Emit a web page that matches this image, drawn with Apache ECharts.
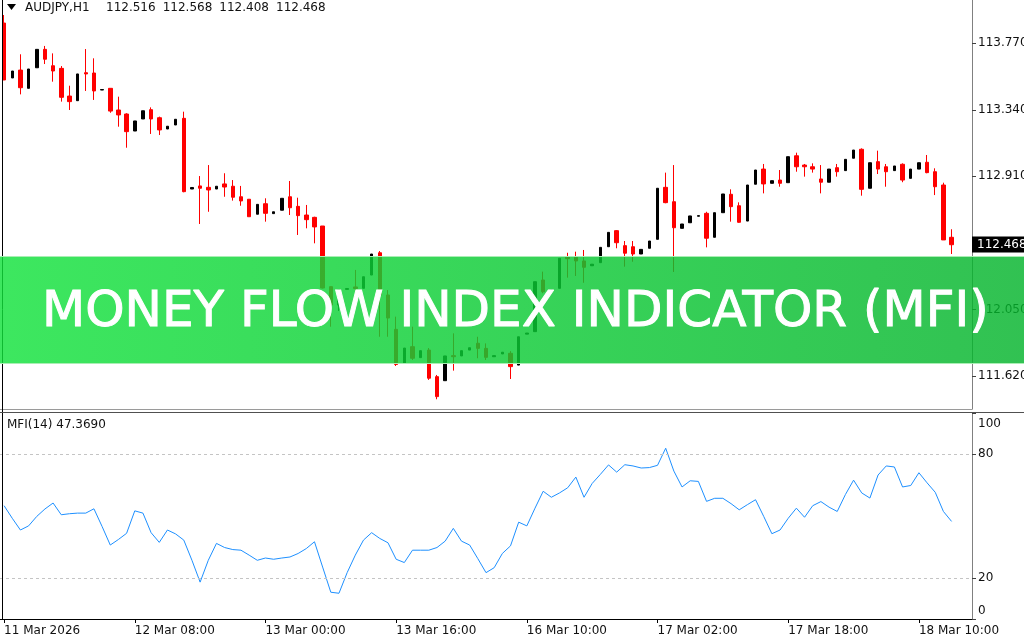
<!DOCTYPE html>
<html><head><meta charset="utf-8">
<style>html,body{margin:0;padding:0;background:#fff}#c{width:1024px;height:640px}</style>
<script src="https://cdn.jsdelivr.net/npm/echarts@6/dist/echarts.min.js"></script>
</head><body><div id="c"></div>
<script>
const symbolName = 'AUDJPY,H1';
const titleOHLC = ['112.516', '112.568', '112.408', '112.468'];
const mfiTitle = 'MFI(14) 47.3690';
const bannerText = 'MONEY FLOW INDEX INDICATOR (MFI)';

const open = [
113.901,113.546,113.597,113.479,113.612,113.731,113.625,113.608,113.429,113.399,
113.580,113.578,113.468,113.479,113.339,113.313,113.203,113.281,113.341,113.289,
113.216,113.242,113.285,112.828,112.848,112.839,112.828,112.861,112.846,112.778,
112.762,112.665,112.733,112.669,112.691,112.778,112.716,112.660,112.645,112.589,
112.197,112.078,112.179,112.195,112.186,112.272,112.416,112.143,111.921,111.703,
111.809,111.738,111.787,111.615,111.589,111.751,111.749,111.787,111.831,111.798,
111.744,111.762,111.766,111.690,111.890,111.906,112.240,112.165,112.186,112.387,
112.387,112.363,112.332,112.352,112.455,112.559,112.462,112.455,112.408,112.445,
112.503,112.839,112.746,112.574,112.610,112.652,112.671,112.516,112.675,112.794,
112.720,112.621,112.859,112.957,112.865,112.886,112.869,113.043,112.983,112.972,
112.893,112.872,112.966,112.947,113.027,113.085,112.833,113.005,112.972,112.947,
112.988,112.897,112.957,113.001,112.940,112.854,112.516];
const high = [
113.953,113.591,113.699,113.604,113.731,113.753,113.705,113.623,113.496,113.572,
113.733,113.673,113.471,113.479,113.425,113.318,113.268,113.334,113.356,113.296,
113.234,113.279,113.328,112.838,112.912,112.983,112.846,112.930,112.886,112.848,
112.762,112.729,112.768,112.681,112.768,112.880,112.772,112.725,112.649,112.589,
112.197,112.176,112.185,112.305,112.261,112.408,112.427,112.175,112.003,111.800,
111.938,111.783,111.800,111.626,111.749,111.895,111.783,111.802,111.873,111.830,
111.751,111.773,111.780,111.873,111.897,112.229,112.294,112.175,112.380,112.416,
112.423,112.434,112.342,112.451,112.548,112.563,112.492,112.492,112.438,112.492,
112.833,112.934,112.983,112.602,112.654,112.656,112.681,112.675,112.796,112.826,
112.742,112.854,112.951,112.990,112.882,112.951,113.037,113.063,112.990,112.994,
112.983,112.957,112.990,113.020,113.080,113.091,112.998,113.076,112.990,112.977,
112.994,112.957,112.998,113.048,112.962,112.869,112.568];
const low = [
113.533,113.546,113.440,113.479,113.612,113.636,113.522,113.393,113.339,113.399,
113.462,113.404,113.468,113.321,113.231,113.095,113.203,113.281,113.184,113.177,
113.216,113.242,112.807,112.828,112.602,112.681,112.828,112.778,112.753,112.720,
112.649,112.665,112.617,112.669,112.691,112.660,112.531,112.574,112.477,112.185,
111.938,112.040,112.179,112.067,112.186,112.272,111.873,111.873,111.684,111.703,
111.723,111.738,111.594,111.469,111.589,111.654,111.749,111.787,111.734,111.723,
111.744,111.762,111.600,111.690,111.890,111.906,112.154,112.165,112.186,112.255,
112.266,112.222,112.332,112.352,112.455,112.445,112.326,112.358,112.408,112.445,
112.503,112.736,112.292,112.574,112.610,112.652,112.451,112.516,112.675,112.617,
112.610,112.621,112.859,112.800,112.865,112.843,112.869,112.940,112.908,112.934,
112.800,112.872,112.908,112.947,113.027,112.785,112.833,112.925,112.843,112.947,
112.872,112.897,112.957,112.930,112.789,112.499,112.408];
const close = [
113.533,113.591,113.483,113.604,113.731,113.667,113.591,113.421,113.393,113.572,
113.572,113.462,113.471,113.332,113.307,113.199,113.268,113.334,113.281,113.210,
113.234,113.279,112.811,112.838,112.833,112.822,112.846,112.841,112.775,112.751,
112.649,112.729,112.671,112.681,112.768,112.707,112.656,112.630,112.583,112.188,
112.078,112.176,112.185,112.185,112.261,112.408,112.143,111.994,111.694,111.800,
111.734,111.783,111.605,111.486,111.749,111.744,111.783,111.802,111.798,111.740,
111.751,111.773,111.680,111.873,111.897,112.229,112.164,112.175,112.380,112.378,
112.363,112.322,112.342,112.451,112.548,112.481,112.413,112.408,112.438,112.492,
112.833,112.740,112.578,112.602,112.654,112.656,112.510,112.675,112.796,112.714,
112.613,112.854,112.951,112.861,112.882,112.865,113.037,112.972,112.972,112.957,
112.872,112.957,112.940,113.020,113.080,112.826,112.998,112.957,112.940,112.977,
112.886,112.957,112.998,112.934,112.843,112.499,112.468];
const mfi = [
55.0,48.9,43.2,45.2,49.8,53.4,56.3,50.6,51.1,51.4,
51.4,53.5,44.9,35.9,38.6,41.6,52.5,51.4,41.9,37.2,
43.2,41.3,38.3,28.5,17.9,28.5,36.7,34.7,33.7,33.4,
31.0,28.5,29.6,29.0,29.6,30.1,31.8,34.2,37.5,25.2,
13.0,12.5,22.5,31.0,38.3,41.9,39.1,37.0,29.0,27.4,
33.4,33.4,33.4,34.7,37.8,44.0,37.8,35.9,29.3,22.5,
24.9,31.8,35.5,47.0,45.2,53.8,62.0,59.1,61.2,63.7,
68.9,59.1,65.8,70.2,74.8,71.3,74.9,74.3,73.3,73.5,
74.6,82.9,71.8,64.1,67.1,66.8,57.1,58.6,58.6,56.0,
53.0,55.5,57.9,49.8,41.4,43.2,48.9,53.8,49.4,55.0,
57.0,54.3,52.2,60.4,67.4,61.2,58.7,69.9,74.3,73.8,
64.1,64.8,71.0,66.1,61.5,52.2,47.369];

const priceTicks = [111.62, 112.05, 112.48, 112.91, 113.34, 113.77];
const mfiTicks = [0, 20, 80, 100];
const mfiLevels = [20, 80];
const timeTicks = [
  [0, '11 Mar 2026'], [16, '12 Mar 08:00'], [32, '13 Mar 00:00'], [48, '13 Mar 16:00'],
  [64, '16 Mar 10:00'], [80, '17 Mar 02:00'], [96, '17 Mar 18:00'], [112, '18 Mar 10:00']
];
const emptySlotsRight = 2;

const FONT = 'DejaVu Sans';
const TXT = '#111111';

const n = open.length;
const categories = [];
for (let i = 0; i < n + emptySlotsRight; i++) categories.push(String(i));
const tickMap = {};
timeTicks.forEach(t => { tickMap[t[0]] = t[1]; });
const isTick = (idx) => Object.prototype.hasOwnProperty.call(tickMap, idx);

const EMPTY = ['-', '-', '-', '-'];
const bullData = [], bearData = [];
for (let i = 0; i < n; i++) {
  const item = [open[i], close[i], low[i], high[i]];
  if (close[i] > open[i]) { bullData.push(item); bearData.push(EMPTY); }
  else { bearData.push(item); bullData.push(EMPTY); }
}
const lastClose = close[n - 1];

const titleX = [106, 162.7, 219.3, 276];
const titleTexts = titleOHLC.map((t, k) => ({type: 'text', x: titleX[k], y: 8, z: 50,
  style: {text: t, fill: TXT, font: '12px "DejaVu Sans"', verticalAlign: 'middle'}}));

const chart = echarts.init(document.getElementById('c'), null, {renderer: 'canvas'});
const option = {
  animation: false,
  backgroundColor: '#ffffff',
  textStyle: {fontFamily: FONT},
  grid: [
    {left: 0, right: 52, top: 0, height: 409, outerBoundsMode: 'none', containLabel: false},
    {left: 0, right: 52, top: 413, height: 206, outerBoundsMode: 'none', containLabel: false}
  ],
  xAxis: [
    {type: 'category', gridIndex: 0, data: categories, boundaryGap: true,
     axisLine: {show: true, lineStyle: {color: '#9a9a9a', width: 1}},
     axisTick: {show: false}, axisLabel: {show: false}, splitLine: {show: false}},
    {type: 'category', gridIndex: 1, data: categories, boundaryGap: true,
     axisLine: {show: true, lineStyle: {color: '#000000', width: 1}},
     axisTick: {show: true, alignWithLabel: true, length: 4, interval: (i) => isTick(i), lineStyle: {color: '#000'}},
     axisLabel: {show: true, interval: (i) => isTick(i), formatter: (v, i) => tickMap[i] || '',
       align: 'left', margin: 6, color: TXT, fontFamily: FONT, fontSize: 12},
     splitLine: {show: false}}
  ],
  yAxis: [
    {type: 'value', gridIndex: 0, position: 'right', min: 111.406, max: 114.050, scale: true,
     axisLine: {show: true, lineStyle: {color: '#808080'}},
     axisTick: {show: true, customValues: priceTicks, length: 4, lineStyle: {color: '#404040'}},
     axisLabel: {show: true, customValues: priceTicks, formatter: (v) => v.toFixed(3), margin: 6,
       color: TXT, fontFamily: FONT, fontSize: 12},
     splitLine: {show: false}},
    {type: 'value', gridIndex: 1, position: 'right', min: 0, max: 100,
     axisLine: {show: true, lineStyle: {color: '#808080'}},
     axisTick: {show: true, customValues: mfiTicks, length: 4, lineStyle: {color: '#404040'}},
     axisLabel: {show: true, customValues: mfiTicks, margin: 6, color: TXT, fontFamily: FONT, fontSize: 12,
       formatter: (v) => v === 100 ? '{t|100}' : (v === 0 ? '{b|0}' : String(v)),
       rich: {t: {padding: [22, 0, 0, 0], fontFamily: FONT, fontSize: 12, color: TXT},
              b: {padding: [0, 0, 17, 0], fontFamily: FONT, fontSize: 12, color: TXT}}},
     splitLine: {show: false}}
  ],
  series: [
    {type: 'candlestick', name: 'bull', xAxisIndex: 0, yAxisIndex: 0, data: bullData, barWidth: 3,
     itemStyle: {color: '#000000', color0: '#000000', borderColor: '#000000', borderColor0: '#000000', borderWidth: 1}},
    {type: 'candlestick', name: 'bear', xAxisIndex: 0, yAxisIndex: 0, data: bearData, barWidth: 4,
     itemStyle: {color: '#ff0000', color0: '#ff0000', borderColor: '#ff0000', borderColor0: '#ff0000', borderWidth: 1},
     markLine: {silent: true, symbol: 'none', animation: false,
       data: [{yAxis: lastClose}],
       lineStyle: {color: 'rgba(0,0,0,0)', width: 0},
       label: {show: true, position: 'end', distance: 0, formatter: lastClose.toFixed(3),
         backgroundColor: '#000000', color: '#ffffff', padding: [2, 3, 2, 5],
         fontFamily: FONT, fontSize: 12}}},
    {type: 'line', name: 'MFI', xAxisIndex: 1, yAxisIndex: 1, data: mfi, showSymbol: false, symbol: 'none',
     lineStyle: {color: '#1E90FF', width: 1}, z: 3,
     markLine: {silent: true, symbol: 'none', animation: false, label: {show: false},
       lineStyle: {color: '#c4c4c4', type: [3, 3], width: 1},
       data: mfiLevels.map(v => ({yAxis: v}))}}
  ],
  graphic: [
    {type: 'line', shape: {x1: 2.5, y1: 0, x2: 2.5, y2: 619}, style: {stroke: '#000', lineWidth: 1}, z: 50},
    {type: 'line', shape: {x1: 0, y1: 412.5, x2: 1024, y2: 412.5}, style: {stroke: '#505050', lineWidth: 1}, z: 50},
    {type: 'polygon', shape: {points: [[7, 4], [16, 4], [11.5, 10]]}, style: {fill: '#000'}, z: 50},
    {type: 'text', x: 25, y: 8, style: {text: symbolName, fill: TXT, font: '12px "DejaVu Sans"', verticalAlign: 'middle'}, z: 50}
  ].concat(titleTexts).concat([
    {type: 'text', x: 7, y: 425, style: {text: mfiTitle, fill: TXT, font: '12px "DejaVu Sans"', verticalAlign: 'middle'}, z: 50},
    {type: 'rect', shape: {x: 0, y: 256, width: 1024, height: 108}, z: 100,
     style: {fill: new echarts.graphic.LinearGradient(0, 0, 1, 0, [
       {offset: 0, color: 'rgba(18,226,60,0.82)'}, {offset: 1, color: 'rgba(4,180,44,0.82)'}])}},
    {type: 'line', shape: {x1: 0, y1: 256.5, x2: 1024, y2: 256.5}, style: {stroke: 'rgba(170,238,180,1)', lineWidth: 1}, z: 101},
    {type: 'line', shape: {x1: 0, y1: 363.5, x2: 1024, y2: 363.5}, style: {stroke: 'rgba(170,238,180,1)', lineWidth: 1}, z: 101},
    {type: 'text', x: 42, y: 313, z: 102,
     style: {text: bannerText, fill: '#ffffff', stroke: '#ffffff', lineWidth: 1, font: '50px "DejaVu Sans"',
       verticalAlign: 'middle', align: 'left'}}
  ])
};
chart.setOption(option);
</script>
</body></html>
